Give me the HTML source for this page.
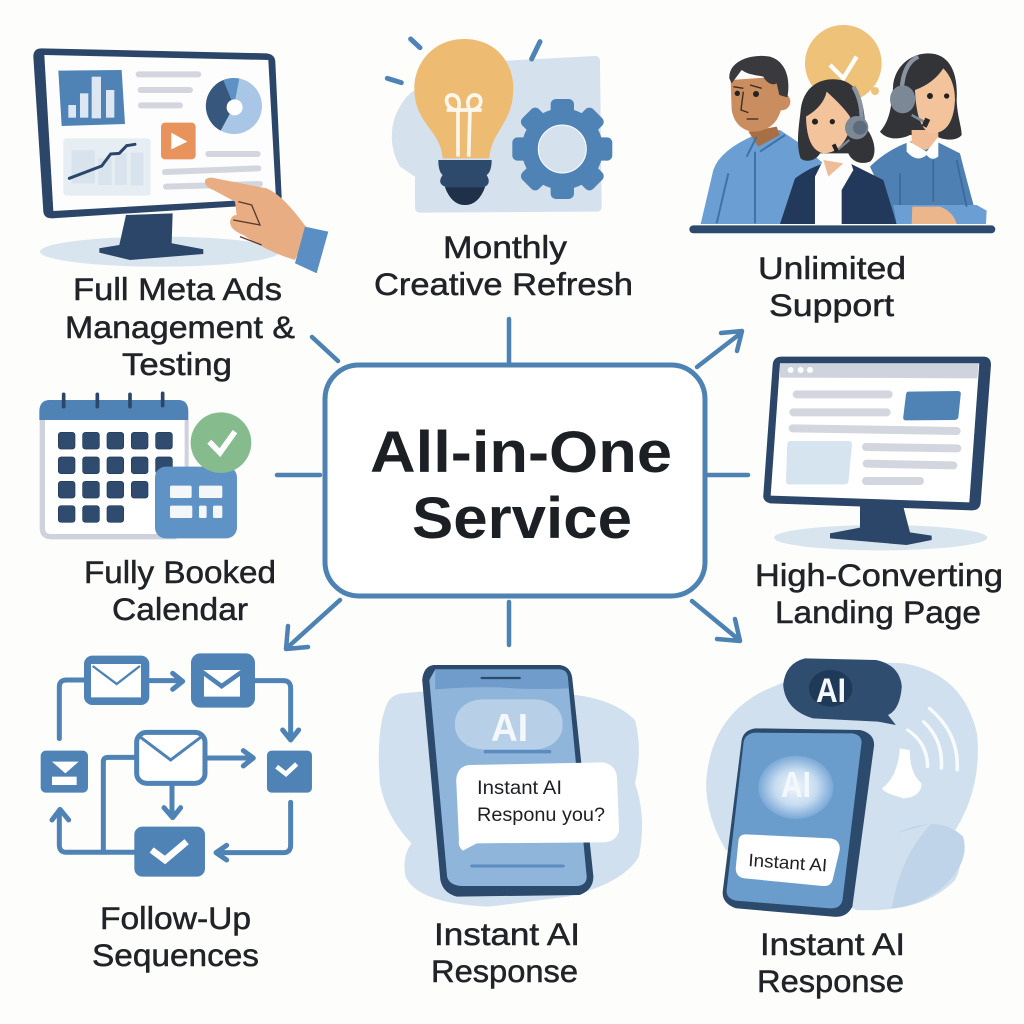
<!DOCTYPE html>
<html><head><meta charset="utf-8"><style>
html,body{margin:0;padding:0;background:#fdfdfb}
svg{display:block}
.l{font-family:"Liberation Sans",sans-serif;font-size:31.5px;fill:#202327;stroke:#202327;stroke-width:.5}
.c{font-family:"Liberation Sans",sans-serif;font-size:58px;font-weight:bold;fill:#1c2024}
.s{font-family:"Liberation Sans",sans-serif;fill:#1c2024}
.w{font-family:"Liberation Sans",sans-serif;font-weight:bold;fill:#f4f8fc}
</style></head><body>
<svg width="1024" height="1024" viewBox="0 0 1024 1024" xmlns="http://www.w3.org/2000/svg">
<defs><radialGradient id="gl"><stop offset="0" stop-color="#eef5fb"/><stop offset=".55" stop-color="#c8ddf1"/><stop offset="1" stop-color="#7aa8d6"/></radialGradient></defs>
<rect width="1024" height="1024" fill="#fdfdfb"/>

<!-- Ads monitor -->
<g transform="translate(0,30) scale(.3333)">
<ellipse cx="480" cy="665" rx="360" ry="45" fill="#d8e5ef"/>
<path d="M378 555L518 550L515 640L610 658L610 672L390 690L298 668L298 655L358 645Z" fill="#2b4668"/>
<path d="M125 55L800 70Q825 73 826 95L845 500Q846 520 825 522L155 565Q132 565 130 545L100 80Q100 55 125 55Z" fill="#2b4668"/>
<path d="M133 75L805 90L828 505L160 543Z" fill="#fdfdfd"/>
<path d="M175 122L365 120L375 282L185 288Z" fill="#4f83b5"/>
<g fill="#dce7f1"><rect x="205" y="225" width="23" height="38"/><rect x="240" y="190" width="25" height="73"/><rect x="275" y="140" width="28" height="125"/><rect x="318" y="180" width="25" height="83"/></g>
<g stroke="#d3d6de" stroke-width="18" stroke-linecap="round" fill="none"><path d="M416 133H595M422 180H570M423 226H540M625 372H773M495 426L775 415M498 470L780 462"/></g>
<circle cx="702" cy="228" r="84" fill="#a9c6e6"/>
<path d="M702 228L718 146A84 84 0 0 0 670 150Z" fill="#5f92c4"/>
<path d="M702 228L670 150A84 84 0 0 0 662 302Z" fill="#37587c"/>
<circle cx="704" cy="232" r="24" fill="#fff"/>
<rect x="483" y="278" width="104" height="110" rx="12" fill="#e8935b"/>
<path d="M514 308L562 335L514 358Z" fill="#fff"/>
<rect x="190" y="325" width="262" height="172" rx="10" fill="#e6edf3"/>
<g fill="#d8e3ed"><rect x="215" y="360" width="70" height="100"/><rect x="295" y="385" width="40" height="80"/><rect x="345" y="370" width="35" height="95"/><rect x="392" y="368" width="38" height="98"/></g>
<path d="M208 445L305 408L332 372L358 370L380 347L405 343" fill="none" stroke="#2b4668" stroke-width="9" stroke-linecap="round" stroke-linejoin="round"/>
<path d="M615 450Q625 438 650 446L800 475Q850 495 925 600L885 690Q800 665 730 615Q690 600 690 575Q695 555 710 555L705 515L640 480Q612 470 615 450Z" fill="#e8ad83"/>
<path d="M715 515L755 525L780 585L700 570M720 620L785 645" fill="none" stroke="#5a3a2e" stroke-width="4"/>
<path d="M915 590L985 605L950 730L885 700Z" fill="#5b8fc4"/>
</g>

<!-- Bulb -->
<g transform="translate(370,30) scale(.3333)">
<path d="M410 92L675 78Q690 78 690 95L695 530Q695 545 680 545L150 548Q135 548 135 530V440L90 410Q50 340 75 260Q100 200 135 180Z" fill="#d5e2ee"/>
<path d="M282 27C380 27 430 100 430 175C430 280 365 300 358 385H218C212 300 133 280 133 175C133 100 190 27 282 27Z" fill="#eebb73"/>
<g fill="none" stroke="#fdf7ec" stroke-width="11"><path d="M264 380V240M296 380L300 240M230 240H335"/><path d="M264 240C225 240 220 195 245 195C270 195 270 225 264 240Z"/><path d="M300 240C340 240 340 195 315 195C290 195 290 225 300 240Z"/></g>
<path d="M205 390H365Q365 425 350 435Q365 460 345 470Q325 525 285 525Q245 525 225 470Q200 460 218 435Q205 425 205 390Z" fill="#2d4a6c"/>
<path d="M225 472H345Q325 525 285 525Q245 525 225 472Z" fill="#1f3149"/>
<g fill="#4f83b5">
<g transform="translate(577,357)">
<circle r="122"/>
<rect x="-35" y="-150" width="70" height="60" rx="16"/>
<rect x="-35" y="-150" width="70" height="60" rx="16" transform="rotate(45)"/>
<rect x="-35" y="-150" width="70" height="60" rx="16" transform="rotate(90)"/>
<rect x="-35" y="-150" width="70" height="60" rx="16" transform="rotate(135)"/>
<rect x="-35" y="-150" width="70" height="60" rx="16" transform="rotate(180)"/>
<rect x="-35" y="-150" width="70" height="60" rx="16" transform="rotate(225)"/>
<rect x="-35" y="-150" width="70" height="60" rx="16" transform="rotate(270)"/>
<rect x="-35" y="-150" width="70" height="60" rx="16" transform="rotate(315)"/>
<circle r="72" fill="#d5e2ee" stroke="#fff" stroke-width="3"/>
</g></g>
<path d="M122 27L150 53M52 145L94 158M510 35L485 87" stroke="#4f83b5" stroke-width="15" stroke-linecap="round" fill="none"/>
</g>

<!-- Support team -->
<g transform="translate(680,20) scale(.3333)">
<circle cx="490" cy="130" r="115" fill="#efc27a"/><circle cx="585" cy="213" r="12" fill="#efc27a"/>
<path d="M450 135L490 175L530 110" fill="none" stroke="#fff" stroke-width="13"/>
<path d="M62 612L100 450Q120 390 225 345L300 330L360 370L430 430L340 612Z" fill="#6b9ed2"/>
<path d="M205 335L290 320L300 345L235 380Z" fill="#a86f45"/>
<path d="M225 610V395M200 410L230 350M240 395L315 345M110 610L145 460" fill="none" stroke="#3f72a8" stroke-width="6"/>
<circle cx="305" cy="245" r="26" fill="#c98d5f"/>
<path d="M152 180L300 170L305 260Q290 335 215 335Q165 325 155 270Z" fill="#c98d5f"/>
<path d="M148 175C145 120 220 100 270 110C320 125 332 180 322 232L298 225L290 190C270 200 255 180 250 170C230 165 205 165 185 150L155 190Z" fill="#3a3a3e"/>
<circle cx="228" cy="222" r="9" fill="#222"/><circle cx="172" cy="220" r="8" fill="#222"/>
<path d="M160 200L190 205M210 195L245 205M190 215L183 270L205 278M200 297H235" fill="none" stroke="#3a2a20" stroke-width="4"/>
<!-- right woman -->
<path d="M570 440Q620 390 690 365H770L840 400Q860 480 885 570L650 610Z" fill="#4f80b3"/>
<path d="M640 555H890L920 572L918 612H650Z" fill="#6b9ed2"/>
<path d="M600 335C630 300 635 260 640 190C650 130 700 100 745 100C810 100 835 160 830 240C832 290 845 320 845 345C830 365 790 360 770 350L690 345C660 360 620 360 600 335Z" fill="#333438"/>
<path d="M695 330L775 330V375L735 390L695 375Z" fill="#f0bd97"/>
<path d="M705 210Q760 190 790 145Q825 180 825 240Q820 340 755 340Q710 330 705 210Z" fill="#f3c39c"/>
<circle cx="750" cy="228" r="9" fill="#222"/><circle cx="800" cy="228" r="8" fill="#222"/>
<path d="M680 360L740 395L775 350L775 410Q755 425 740 405Q710 430 680 395Z" fill="#fff"/>
<path d="M760 420V545M660 460V555M830 420L860 560" stroke="#3b6896" stroke-width="5" fill="none"/>
<path d="M665 210Q670 130 715 110" fill="none" stroke="#8a93a0" stroke-width="13"/>
<ellipse cx="668" cy="238" rx="38" ry="42" fill="#7d8896"/>
<path d="M695 285L740 310" stroke="#7d8896" stroke-width="8"/><rect x="730" y="295" width="16" height="26" fill="#2b2b2e" transform="rotate(25 738 308)"/>
<path d="M697 560H780Q820 575 830 612H695Z" fill="#ecb68d"/>
<!-- center woman -->
<path d="M300 612L345 475Q400 435 440 430H510L610 480L650 612Z" fill="#23395b"/>
<path d="M405 470L430 420H510L520 450L485 510V612H405Z" fill="#fdfdfd"/>
<path d="M430 420L445 470L490 430" fill="#eebd97"/>
<path d="M362 415C345 370 360 300 362 270C370 200 420 175 465 178C530 180 555 240 555 320C590 360 590 410 570 425C545 435 515 425 505 400L420 400C410 420 380 430 362 415Z" fill="#333438"/>
<path d="M378 290Q430 260 440 215Q490 260 510 290L505 340Q480 400 430 400Q380 390 378 290Z" fill="#f3c39c"/>
<circle cx="405" cy="305" r="9" fill="#222"/><circle cx="457" cy="305" r="8" fill="#222"/>
<path d="M520 200Q545 240 545 295" fill="none" stroke="#8a93a0" stroke-width="13"/>
<circle cx="530" cy="323" r="35" fill="#7d8896"/><circle cx="540" cy="323" r="21" fill="#5e6b7c"/>
<path d="M508 360L470 392" stroke="#7d8896" stroke-width="7"/><rect x="460" y="372" width="12" height="24" fill="#222" transform="rotate(-25 466 384)"/>
<rect x="28" y="616" width="918" height="24" rx="12" fill="#2b4a6e"/>
</g>

<!-- Calendar -->
<g transform="translate(20,385) scale(.3333)">
<path d="M58 95H505V440Q505 460 485 460H85Q58 460 58 435Z" fill="#fff"/>
<path d="M67 105V430Q67 452 90 455H470" fill="none" stroke="#cfd2dc" stroke-width="16"/>
<path d="M500 105V250" stroke="#cfd2dc" stroke-width="12"/>
<path d="M58 105V80Q58 45 90 45H475Q505 45 505 80V105Z" fill="#4f83b5"/>
<g stroke="#2b4668" stroke-width="11" stroke-linecap="round"><path d="M131 28V65M232 28V65M330 28V65M428 25V62"/></g>
<g fill="#2f4c6f" stroke="#233a57" stroke-width="2">
<rect x="115" y="142" width="50" height="50" rx="8"/><rect x="188" y="142" width="50" height="50" rx="8"/><rect x="261" y="142" width="50" height="50" rx="8"/><rect x="334" y="142" width="50" height="50" rx="8"/><rect x="407" y="142" width="50" height="50" rx="8"/>
<rect x="115" y="216" width="50" height="50" rx="8"/><rect x="188" y="216" width="50" height="50" rx="8"/><rect x="261" y="216" width="50" height="50" rx="8"/><rect x="334" y="216" width="50" height="50" rx="8"/><rect x="407" y="216" width="50" height="50" rx="8"/>
<rect x="115" y="289" width="50" height="50" rx="8"/><rect x="188" y="289" width="50" height="50" rx="8"/><rect x="261" y="289" width="50" height="50" rx="8"/><rect x="334" y="289" width="50" height="50" rx="8"/>
<rect x="115" y="362" width="50" height="50" rx="8"/><rect x="188" y="362" width="50" height="50" rx="8"/><rect x="261" y="362" width="50" height="50" rx="8"/>
</g>
<rect x="405" y="245" width="246" height="215" rx="32" fill="#5f93c6"/>
<g fill="#f4f7fa"><rect x="450" y="302" width="65" height="37" rx="5"/><rect x="537" y="302" width="70" height="37" rx="5"/><rect x="450" y="362" width="67" height="37" rx="5"/><rect x="537" y="362" width="23" height="37" rx="5"/><rect x="579" y="362" width="28" height="37" rx="5"/></g>
<circle cx="603" cy="173" r="91" fill="#86bb8d"/>
<path d="M568 170L600 203L645 140" fill="none" stroke="#fff" stroke-width="17"/>
</g>

<!-- Landing page monitor -->
<g transform="translate(750,345) scale(.3333)">
<ellipse cx="392" cy="578" rx="320" ry="38" fill="#d8e5ef"/>
<path d="M330 480L460 485L480 562L545 572L545 585L470 600L240 580L240 565L330 548Z" fill="#2b4668"/>
<path d="M95 35H700Q723 35 723 60L692 475Q688 497 665 496L60 475Q38 470 40 450L68 60Q70 35 95 35Z" fill="#2b4668"/>
<path d="M90 55L688 55L658 472L62 452Z" fill="#fff"/>
<path d="M90 57H686L682 100L90 98Z" fill="#cfd3de"/>
<circle cx="122" cy="75" r="9" fill="#fff"/><circle cx="152" cy="75" r="9" fill="#fff"/><circle cx="180" cy="75" r="9" fill="#fff"/>
<g stroke="#d3d6de" stroke-width="24" stroke-linecap="round" fill="none"><path d="M140 148H416M130 202H410M128 250L620 258M348 306L622 310M350 356L610 361M348 408H510"/></g>
<path d="M475 140L625 138Q635 140 632 150L625 218Q622 225 612 225L465 226Q458 224 460 215L468 148Q470 140 475 140Z" fill="#4f83b5"/>
<path d="M120 288H295Q307 288 306 300L296 405Q295 418 285 418H115Q108 418 108 405L112 296Q114 288 120 288Z" fill="#d6e4ef"/>
</g>

<!-- Flow -->
<g transform="translate(20,640) scale(.3333)">
<g fill="none" stroke="#4f83b5" stroke-width="15" stroke-linecap="round" stroke-linejoin="round">
<path d="M118 296V140Q118 120 140 120H200"/>
<path d="M385 122H480M458 100L488 124L458 148"/>
<path d="M700 122H790Q812 122 812 145V295M788 270L812 300L836 270"/>
<path d="M556 354H695M670 332L700 354L670 378"/>
<path d="M456 430V525M432 503L458 533L482 503"/>
<path d="M350 352H265Q250 352 250 365V630"/>
<path d="M350 637H140Q118 637 118 615V515M96 540L120 508L146 540"/>
<path d="M812 487V615Q812 638 790 638H595M620 616L588 638L620 660"/>
</g>
<rect x="192" y="47" width="196" height="148" rx="25" fill="#4f83b5"/>
<path d="M213 72H363V172H213Z" fill="#fff"/><path d="M218 78L290 132L360 78" fill="none" stroke="#4f83b5" stroke-width="7"/>
<rect x="513" y="40" width="192" height="163" rx="28" fill="#4f83b5"/>
<path d="M552 108L605 147L660 108V170H552Z" fill="#fff"/><path d="M550 90H662L605 130Z" fill="#fff"/>
<rect x="62" y="332" width="142" height="126" rx="16" fill="#4f83b5"/>
<path d="M96 365H176L136 400Z" fill="#fff"/><rect x="96" y="410" width="74" height="25" fill="#fff"/>
<rect x="741" y="332" width="135" height="126" rx="14" fill="#4f83b5"/>
<path d="M770 380L798 402L830 372" fill="none" stroke="#fff" stroke-width="14"/>
<rect x="350" y="277" width="205" height="153" rx="30" fill="#fff" stroke="#4f83b5" stroke-width="15"/>
<path d="M362 292L452 360L542 292" fill="none" stroke="#4f83b5" stroke-width="9"/>
<rect x="343" y="560" width="212" height="150" rx="24" fill="#4f83b5"/>
<path d="M395 630L435 660L500 605" fill="none" stroke="#fff" stroke-width="20"/>
</g>

<!-- Left phone -->
<g transform="translate(370,650) scale(.3954,.3333)">
<path d="M80 130L130 125L520 135Q620 150 670 210Q690 300 670 400Q700 500 680 620Q640 700 500 740L300 770Q120 760 90 680Q80 620 105 580Q40 500 25 400Q15 250 40 170Q50 135 80 130Z" fill="#d0e0ee"/>
<path d="M160 45H480Q510 50 512 90L565 680Q565 720 530 735L220 740Q185 730 178 690L132 90Q135 50 160 45Z" fill="#2c4a6c"/>
<path d="M165 58H480Q498 60 500 80L548 680Q548 705 525 708L230 708Q200 705 195 680L150 90Z" fill="#8fb5db"/>
<path d="M165 58H480Q498 60 500 80L503 115Q400 120 330 112Q240 110 165 118Z" fill="#6f9ccb"/>
<path d="M283 84H378" stroke="#2c4a6c" stroke-width="7" stroke-linecap="round"/>
<rect x="215" y="148" width="272" height="150" rx="70" fill="#b7d0e8"/>
<path d="M288 305H458" stroke="#5b8cbf" stroke-width="10"/>
<path d="M258 648H488" stroke="#5b8cbf" stroke-width="9" stroke-linecap="round"/>
<path d="M250 345L590 337Q625 345 625 390L630 540Q625 575 590 577L270 580L235 602Q222 590 225 570L218 390Q220 350 250 345Z" fill="#fff"/>
</g>
<text class="w" x="491" y="741" font-size="39" textLength="37" lengthAdjust="spacingAndGlyphs">AI</text>
<text class="s" x="477" y="794" font-size="19" textLength="85" lengthAdjust="spacingAndGlyphs">Instant AI</text>
<text class="s" x="477" y="821" font-size="19" textLength="128" lengthAdjust="spacingAndGlyphs">Responu you?</text>

<!-- Right phone -->
<g transform="translate(370,650) scale(.3954,.3333)">
<path d="M1120 60Q1200 30 1350 40Q1500 70 1535 250Q1550 420 1470 560Q1510 620 1480 690Q1400 790 1230 780L900 600Q850 500 850 400Q860 200 1000 120Z" fill="#d0e0ee"/>
<path d="M1330 550Q1440 490 1500 560Q1520 640 1440 720Q1380 770 1320 775Q1340 620 1420 520Z" fill="#bfd4e8"/>
<path d="M1100 25L1280 30Q1340 45 1345 110Q1340 180 1310 195L1330 225L1285 215L1120 205Q1050 180 1045 105Q1050 40 1100 25Z" fill="#2f4d6e"/>
<circle cx="1165" cy="115" r="55" fill="#1f3a58"/>
<path d="M1360 240Q1410 280 1410 350M1400 215Q1450 270 1445 355M1415 175Q1490 250 1485 360" fill="none" stroke="#fff" stroke-width="9" stroke-linecap="round" opacity=".85"/>
<path d="M1340 295L1365 300Q1365 370 1395 400Q1395 440 1350 445Q1300 430 1295 415Q1335 380 1340 295Z" fill="#fff"/>
<path d="M975 235L1240 240Q1275 250 1275 285L1220 770Q1205 805 1170 800L925 775Q890 760 892 725L940 270Q945 240 975 235Z" fill="#2c4a6c"/>
<path d="M975 248L1220 250Q1245 255 1243 280L1195 750Q1190 778 1160 775L925 752Q900 745 902 720L945 275Q950 250 975 248Z" fill="#6a9ccc"/>
<ellipse cx="1077" cy="412" rx="95" ry="95" fill="url(#gl)"/>
<path d="M950 553L1165 565Q1190 570 1188 600L1170 690Q1165 710 1145 708L945 685Q925 680 925 655L932 570Q935 553 950 553Z" fill="#fff"/>
</g>
<text class="w" x="781" y="797" font-size="36" textLength="30" lengthAdjust="spacingAndGlyphs">AI</text>
<text class="w" x="816" y="702" font-size="34" textLength="30" lengthAdjust="spacingAndGlyphs">AI</text>
<text class="s" x="748" y="866" font-size="18" textLength="79" lengthAdjust="spacingAndGlyphs" transform="rotate(4 748 866)">Instant AI</text>

<!-- Center box -->
<rect x="325" y="365" width="380" height="231" rx="34" fill="#fff" stroke="#4e82b2" stroke-width="5"/>
<text class="c" x="370" y="472" textLength="302" lengthAdjust="spacingAndGlyphs">All-in-One</text>
<text class="c" x="412" y="538" textLength="220" lengthAdjust="spacingAndGlyphs">Service</text>

<!-- Connectors -->
<g fill="none" stroke="#4e82b2" stroke-width="4.5" stroke-linecap="round" stroke-linejoin="round">
<path d="M312 337L338 361M509 319V362M277 475H320M708 475H748M509 602V645"/>
<path d="M697 367L741 333M721 333L742 331L737 351"/>
<path d="M340 600L288 647M288 626L286 649L308 647"/>
<path d="M692 601L738 639M717 639L740 641L735 619"/>
</g>

<!-- Labels -->
<g>
<text class="l" x="73" y="300" textLength="209" lengthAdjust="spacingAndGlyphs">Full Meta Ads</text>
<text class="l" x="65" y="338" textLength="230" lengthAdjust="spacingAndGlyphs">Management &amp;</text>
<text class="l" x="122" y="375" textLength="110" lengthAdjust="spacingAndGlyphs">Testing</text>
<text class="l" x="443" y="258" textLength="124" lengthAdjust="spacingAndGlyphs">Monthly</text>
<text class="l" x="374" y="295" textLength="259" lengthAdjust="spacingAndGlyphs">Creative Refresh</text>
<text class="l" x="758" y="279" textLength="148" lengthAdjust="spacingAndGlyphs">Unlimited</text>
<text class="l" x="769" y="316" textLength="125" lengthAdjust="spacingAndGlyphs">Support</text>
<text class="l" x="84" y="583" textLength="192" lengthAdjust="spacingAndGlyphs">Fully Booked</text>
<text class="l" x="112" y="620" textLength="136" lengthAdjust="spacingAndGlyphs">Calendar</text>
<text class="l" x="755" y="586" textLength="248" lengthAdjust="spacingAndGlyphs">High-Converting</text>
<text class="l" x="775" y="623" textLength="206" lengthAdjust="spacingAndGlyphs">Landing Page</text>
<text class="l" x="100" y="929" textLength="151" lengthAdjust="spacingAndGlyphs">Follow-Up</text>
<text class="l" x="92" y="966" textLength="167" lengthAdjust="spacingAndGlyphs">Sequences</text>
<text class="l" x="434" y="945" textLength="146" lengthAdjust="spacingAndGlyphs">Instant AI</text>
<text class="l" x="431" y="982" textLength="147" lengthAdjust="spacingAndGlyphs">Response</text>
<text class="l" x="760" y="955" textLength="145" lengthAdjust="spacingAndGlyphs">Instant AI</text>
<text class="l" x="757" y="992" textLength="147" lengthAdjust="spacingAndGlyphs">Response</text>
</g>
</svg>
</body></html>
